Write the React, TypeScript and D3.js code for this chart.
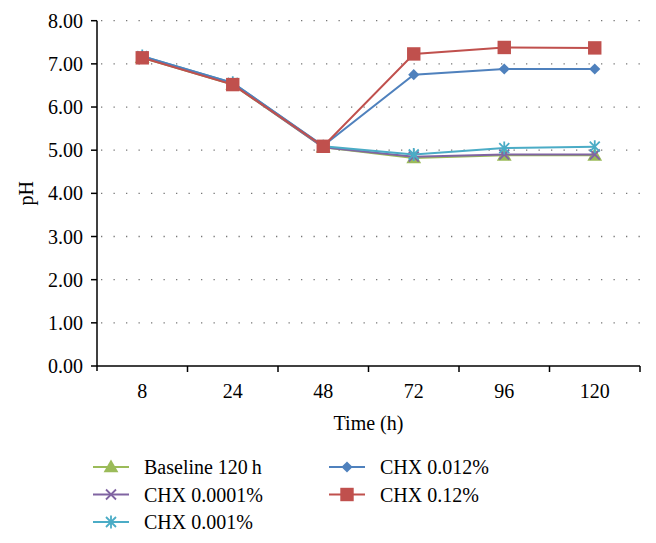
import React from "react";
import * as d3 from "d3";

// Time points (h) and pH values
const times = ["8", "24", "48", "72", "96", "120"];
const baseline = [7.14, 6.52, 5.07, 4.82, 4.88, 4.88];
const chx00001 = [7.15, 6.53, 5.07, 4.85, 4.9, 4.9];
const chx0001 = [7.18, 6.56, 5.09, 4.9, 5.05, 5.08];
const chx0012 = [7.18, 6.56, 5.1, 6.75, 6.88, 6.88];
const chx012 = [7.14, 6.52, 5.09, 7.23, 7.38, 7.37];
const yTicks = [0, 1, 2, 3, 4, 5, 6, 7, 8];

const seriesNames = ["Baseline 120\u2009h", "CHX 0.0001%", "CHX 0.001%", "CHX 0.012%", "CHX 0.12%"];
const seriesValues = [baseline, chx00001, chx0001, chx0012, chx012];
const seriesColors = ["#9bbb59", "#8064a2", "#4bacc6", "#4f81bd", "#c0504d"];
const seriesMarkers = ["triangle", "x", "star", "diamond", "square"];

const width = 656;
const height = 543;
const margin = { left: 97, right: 16, top: 20.7, bottom: 177 };
const font = "'Liberation Serif', 'Times New Roman', serif";
const fs = 20;

const Marker = ({ kind, color, x, y }: { kind: string; color: string; x: number; y: number }) => {
  if (kind === "square") {
    return <path d={d3.symbol(d3.symbolSquare, 180)()!} fill={color} transform={`translate(${x},${y})`} />;
  }
  if (kind === "diamond") {
    // square turned 45 degrees, as in the original
    return <path d={d3.symbol(d3.symbolSquare, 62)()!} fill={color} transform={`translate(${x},${y}) rotate(45)`} />;
  }
  if (kind === "triangle") {
    return <path d={d3.symbol(d3.symbolTriangle, 95)()!} fill={color} transform={`translate(${x},${y + 1})`} />;
  }
  const r = 5;
  const p = d3.path();
  p.moveTo(-r, -r);
  p.lineTo(r, r);
  p.moveTo(-r, r);
  p.lineTo(r, -r);
  if (kind === "star") {
    p.moveTo(0, -r - 1.5);
    p.lineTo(0, r + 1.5);
  }
  return <path d={p.toString()} stroke={color} strokeWidth={1.8} fill="none" transform={`translate(${x},${y})`} />;
};

export default function App() {
  const x = d3
    .scaleBand()
    .domain(times)
    .range([margin.left, width - margin.right])
    .padding(0);
  const y = d3
    .scaleLinear()
    .domain([0, 8])
    .range([height - margin.bottom, margin.top]);

  const cx = (t: string) => (x(t) ?? 0) + x.bandwidth() / 2;
  const line = d3
    .line<number>()
    .x((_, i) => cx(times[i]))
    .y((d) => y(d));

  const x0 = margin.left;
  const x1 = width - margin.right;
  const yBottom = y(0);

  return (
    <svg width={width} height={height} style={{ position: "absolute", left: 0, top: 0 }} fontFamily={font}>
      <rect width={width} height={height} fill="#fff" />
      {/* gridlines */}
      {yTicks.slice(1).map((t) => (
        <line
          key={"g" + t}
          x1={x0 + 4}
          x2={x1}
          y1={y(t)}
          y2={y(t)}
          stroke="#777"
          strokeWidth={1.3}
          strokeDasharray="1.3 11.2"
        />
      ))}
      {/* y axis */}
      <line x1={x0} x2={x0} y1={y(8)} y2={yBottom + 5} stroke="#000" strokeWidth={1.5} />
      {yTicks.map((t) => (
        <g key={"y" + t}>
          <line x1={x0 - 6} x2={x0} y1={y(t)} y2={y(t)} stroke="#000" strokeWidth={1.5} />
          <text x={x0 - 14} y={y(t)} dy="0.35em" textAnchor="end" fontSize={fs}>
            {t.toFixed(2)}
          </text>
        </g>
      ))}
      {/* x axis */}
      <line x1={x0} x2={x1} y1={yBottom} y2={yBottom} stroke="#000" strokeWidth={1.5} />
      {times.map((t) => (
        <g key={"x" + t}>
          <line
            x1={(x(t) ?? 0) + x.bandwidth()}
            x2={(x(t) ?? 0) + x.bandwidth()}
            y1={yBottom}
            y2={yBottom + 6}
            stroke="#000"
            strokeWidth={1.5}
          />
          <text x={cx(t)} y={yBottom + 32} textAnchor="middle" fontSize={fs}>
            {t}
          </text>
        </g>
      ))}
      <text x={(x0 + x1) / 2} y={yBottom + 64} textAnchor="middle" fontSize={fs}>
        Time (h)
      </text>
      <text transform={`translate(33,${(y(8) + yBottom) / 2}) rotate(-90)`} textAnchor="middle" fontSize={fs}>
        pH
      </text>
      {/* series */}
      {seriesValues.map((vals, si) => (
        <g key={"s" + si}>
          <path d={line(vals)!} fill="none" stroke={seriesColors[si]} strokeWidth={2} />
          {vals.map((v, i) => (
            <Marker key={i} kind={seriesMarkers[si]} color={seriesColors[si]} x={cx(times[i])} y={y(v)} />
          ))}
        </g>
      ))}
      {/* legend */}
      {seriesNames.map((name, i) => {
        const col = i < 3 ? 0 : 1;
        const row = i < 3 ? i : i - 3;
        const lx = col === 0 ? 93 : 329;
        const ly = 467 + row * 27.5;
        return (
          <g key={"l" + i}>
            <line x1={lx} x2={lx + 36} y1={ly} y2={ly} stroke={seriesColors[i]} strokeWidth={2} />
            <Marker kind={seriesMarkers[i]} color={seriesColors[i]} x={lx + 18} y={ly} />
            <text x={lx + 51} y={ly} dy="0.35em" fontSize={fs}>
              {name}
            </text>
          </g>
        );
      })}
    </svg>
  );
}
